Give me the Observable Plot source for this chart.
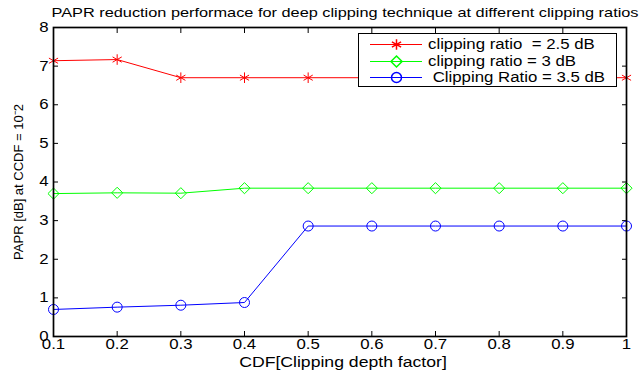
<!DOCTYPE html>
<html>
<head>
<meta charset="utf-8">
<script src="https://cdn.jsdelivr.net/npm/d3@7"></script>
<script src="https://cdn.jsdelivr.net/npm/@observablehq/plot@0.6"></script>
<style>
  html, body { margin: 0; padding: 0; background: #fff; }
  #wrap { position: relative; width: 644px; height: 374px; font-family: "Liberation Sans", Arial, sans-serif; }
  #legend { position: absolute; left: 358px; top: 33px; width: 257px; height: 52px; border: 1px solid #000; background: #fff; font-size: 14px; }
  .row { position: absolute; left: 0; height: 16px; display: flex; align-items: center; }
  .row svg { display: block; }
  .row span { white-space: pre; margin-left: 6px; color: #000; display: inline-block; transform: scaleX(1.2); transform-origin: left center; }
</style>
</head>
<body>
<div id="wrap"></div>
<script>
const depth = [0.1, 0.2, 0.3, 0.4, 0.5, 0.6, 0.7, 0.8, 0.9, 1.0];
const ratio25 = [7.14, 7.17, 6.70, 6.70, 6.70, 6.70, 6.70, 6.70, 6.70, 6.70];
const ratio3 = [3.70, 3.72, 3.71, 3.84, 3.84, 3.84, 3.84, 3.84, 3.84, 3.84];
const ratio35 = [0.70, 0.76, 0.81, 0.88, 2.86, 2.86, 2.86, 2.86, 2.86, 2.86];
const seriesNames = ["clipping ratio  = 2.5 dB", "clipping ratio = 3 dB", " Clipping Ratio = 3.5 dB"];
const seriesColors = ["#ff0000", "#00ff00", "#0000ff"];
const seriesSymbols = ["asterisk", "diamond2", "circle"];
const xTicks = [0.1, 0.2, 0.3, 0.4, 0.5, 0.6, 0.7, 0.8, 0.9, 1];
const yTicks = [0, 1, 2, 3, 4, 5, 6, 7, 8];
const titleText = "PAPR reduction performace for deep clipping technique at different clipping ratios";
const xLabel = "CDF[Clipping depth factor]";
const yLabel = "PAPR [dB] at CCDF = 10\u207B2";

const allSeries = [ratio25, ratio3, ratio35];
const rows = [];
allSeries.forEach((vals, s) => vals.forEach((v, i) => rows.push({x: depth[i], y: v, s})));

const marks = [];
allSeries.forEach((vals, s) => {
  const d = rows.filter(r => r.s === s);
  marks.push(Plot.line(d, {x: "x", y: "y", stroke: seriesColors[s], strokeWidth: 1}));
  marks.push(Plot.dot(d, {x: "x", y: "y", stroke: seriesColors[s], fill: "none", symbol: seriesSymbols[s], r: 5, strokeWidth: 1}));
});

const chart = Plot.plot({
  width: 644,
  height: 374,
  marginLeft: 53,
  marginRight: 18,
  marginTop: 27,
  marginBottom: 38,
  style: {fontFamily: "Liberation Sans, Arial, sans-serif", fontSize: "14px", color: "#000", background: "#fff"},
  x: {domain: [0.1, 1], ticks: xTicks},
  y: {domain: [0, 8], ticks: yTicks},
  marks: [
    Plot.axisX(xTicks, {anchor: "bottom", tickSize: -5, tickPadding: 8, tickFormat: d => String(d), label: null, fontSize: 14}),
    Plot.axisX(xTicks, {anchor: "top", tickSize: -5, tickFormat: () => "", label: null}),
    Plot.axisY(yTicks, {anchor: "left", tickSize: -5, tickPadding: 10, tickFormat: d => String(d), label: null, fontSize: 14}),
    Plot.axisY(yTicks, {anchor: "right", tickSize: -5, tickFormat: () => "", label: null}),
    ...marks,
    Plot.frame({stroke: "#000", strokeWidth: 1.7}),
    Plot.text([titleText], {frameAnchor: "top", dy: -15, dx: 5, textAnchor: "middle", lineAnchor: "middle", text: d => d, fontSize: 13.6, fill: "#000"}),
    Plot.text([xLabel], {frameAnchor: "bottom", dy: 26, dx: 3, textAnchor: "middle", lineAnchor: "middle", text: d => d, fontSize: 14.7, fill: "#000"}),
    Plot.text([yLabel], {frameAnchor: "left", dx: -35, rotate: -90, textAnchor: "middle", lineAnchor: "middle", text: d => d, fontSize: 13, fill: "#000"})
  ]
});
document.getElementById("wrap").appendChild(chart);

// horizontal stretch of horizontal texts (about their anchor) to match the wide reference lettering
const SX = 1.2;
chart.querySelectorAll("text").forEach(t => {
  const m = t.getCTM();
  if (m && Math.abs(m.b) > 1e-6) return; // rotated text: leave as is
  const ax = parseFloat(t.getAttribute("x")) || 0;
  const tr = t.getAttribute("transform") || "";
  t.setAttribute("transform", `${tr} translate(${ax},0) scale(${SX},1) translate(${-ax},0)`.trim());
});

// legend
const legend = document.createElement("div");
legend.id = "legend";
seriesNames.forEach((name, s) => {
  const row = document.createElement("div");
  row.className = "row";
  row.style.top = (2 + s * 16.5) + "px";
  row.style.left = "11px";
  const icon = Plot.plot({
    width: 52, height: 16, margin: 0,
    x: {domain: [0, 1], axis: null}, y: {domain: [0, 1], axis: null},
    marks: [
      Plot.ruleY([0.5], {stroke: seriesColors[s], strokeWidth: 1}),
      Plot.dot([{x: 0.5, y: 0.5}], {x: "x", y: "y", stroke: seriesColors[s], fill: "none", symbol: seriesSymbols[s], r: 5})
    ]
  });
  row.appendChild(icon);
  const label = document.createElement("span");
  label.textContent = name;
  row.appendChild(label);
  legend.appendChild(row);
});
document.getElementById("wrap").appendChild(legend);
</script>
</body>
</html>
